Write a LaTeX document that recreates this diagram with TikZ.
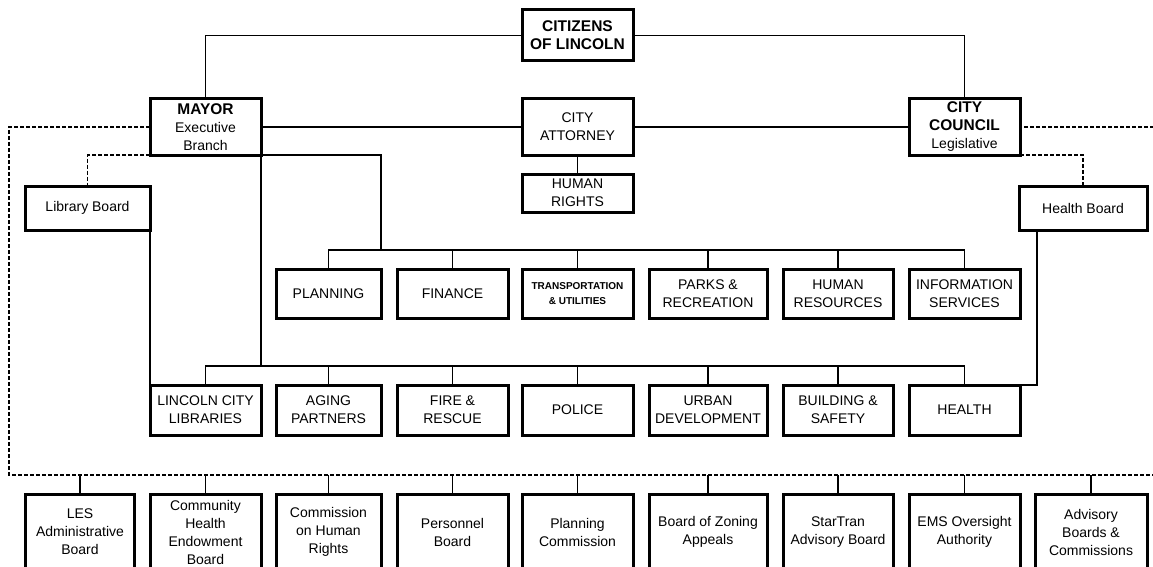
\documentclass[tikz,border=0pt]{standalone}
\usepackage{fontspec}
\setmainfont{Liberation Sans}
\usepackage{tikz}

\tikzset{
  orgbox/.style={draw, line width=3pt, inner sep=2pt, outer sep=0pt, align=center, font=\fontsize{14}{18}\selectfont},
  link/.style={line width=1.3pt},
  dashlink/.style={line width=1.3pt, dash pattern=on 4pt off 2pt}
}

\begin{document}
\begin{tikzpicture}[x=1pt,y=-1pt]
\useasboundingbox (0,0) rectangle (1153,567);
\clip (0,0) rectangle (1153,567);

\node[orgbox, font=\bfseries\fontsize{15.5}{18}\selectfont, minimum width=111, minimum height=51] (citizens) at (577.5,35.5) {CITIZENS\\OF LINCOLN};
\node[orgbox, minimum width=111, minimum height=56] (mayor) at (205.5,127) {{\bfseries\fontsize{15.5}{18}\selectfont MAYOR}\\Executive\\Branch};
\node[orgbox, minimum width=111, minimum height=56] (attorney) at (577.5,127) {CITY\\ATTORNEY};
\node[orgbox, minimum width=111, minimum height=56] (council) at (964.5,127) {{\bfseries\fontsize{15.5}{18}\selectfont CITY}\\{\bfseries\fontsize{15.5}{18}\selectfont COUNCIL}\\Legislative};
\node[orgbox, minimum width=111, minimum height=38] (hrights) at (577.5,193) {HUMAN\\RIGHTS};
\node[orgbox, minimum width=125, minimum height=44] (libboard) at (87.5,208) {Library Board};
\node[orgbox, minimum width=128, minimum height=44] (healthboard) at (1083,208) {Health Board};

\node[orgbox, minimum width=105, minimum height=49] (planning) at (328.5,293.5) {PLANNING};
\node[orgbox, minimum width=111, minimum height=49] (finance) at (452.5,293.5) {FINANCE};
\node[orgbox, font=\bfseries\fontsize{10}{15}\selectfont, minimum width=111, minimum height=49] (transport) at (577.5,293.5) {TRANSPORTATION\\\& UTILITIES};
\node[orgbox, minimum width=118, minimum height=49] (parks) at (708,293.5) {PARKS \&\\RECREATION};
\node[orgbox, minimum width=110, minimum height=49] (hresources) at (838,293.5) {HUMAN\\RESOURCES};
\node[orgbox, minimum width=111, minimum height=49] (infoserv) at (964.5,293.5) {INFORMATION\\SERVICES};

\node[orgbox, minimum width=111, minimum height=50] (libraries) at (205.5,410) {LINCOLN CITY\\LIBRARIES};
\node[orgbox, minimum width=105, minimum height=50] (aging) at (328.5,410) {AGING\\PARTNERS};
\node[orgbox, minimum width=111, minimum height=50] (fire) at (452.5,410) {FIRE \&\\RESCUE};
\node[orgbox, minimum width=111, minimum height=50] (police) at (577.5,410) {POLICE};
\node[orgbox, minimum width=118, minimum height=50] (urban) at (708,410) {URBAN\\DEVELOPMENT};
\node[orgbox, minimum width=110, minimum height=50] (building) at (838,410) {BUILDING \&\\SAFETY};
\node[orgbox, minimum width=111, minimum height=50] (health) at (964.5,410) {HEALTH};

\node[orgbox, minimum width=109, minimum height=76] (les) at (80,532) {LES\\Administrative\\Board};
\node[orgbox, minimum width=111, minimum height=76] (chboard) at (205.5,532) {Community\\Health\\Endowment\\Board};
\node[orgbox, minimum width=105, minimum height=76] (chrights) at (328.5,532) {Commission\\on Human\\Rights};
\node[orgbox, minimum width=111, minimum height=76] (personnel) at (452.5,532) {Personnel\\Board};
\node[orgbox, minimum width=111, minimum height=76] (plancomm) at (577.5,532) {Planning\\Commission};
\node[orgbox, minimum width=118, minimum height=76] (zoning) at (708,532) {Board of Zoning\\Appeals};
\node[orgbox, minimum width=110, minimum height=76] (startran) at (838,532) {StarTran\\Advisory Board};
\node[orgbox, minimum width=111, minimum height=76] (ems) at (964.5,532) {EMS Oversight\\Authority};
\node[orgbox, minimum width=112, minimum height=76] (advisory) at (1091,532) {Advisory\\Boards \&\\Commissions};

\draw[link] (citizens.west) -| (mayor.north);
\draw[link] (citizens.east) -| (council.north);
\draw[link] (mayor.east) -- (attorney.west);
\draw[link] (attorney.east) -- (council.west);
\draw[link] (attorney.south) -- (hrights.north);

\coordinate (ubus) at (381,250);
\coordinate (lbus) at (261,366);
\draw[link] (mayor.south east) -| (ubus);
\draw[link] (mayor.south east) -- (lbus);
\draw[link] (planning.north) |- (ubus) -| (infoserv.north);
\draw[link] (finance.north) -- (finance.north |- ubus);
\draw[link] (transport.north) -- (transport.north |- ubus);
\draw[link] (parks.north) -- (parks.north |- ubus);
\draw[link] (hresources.north) -- (hresources.north |- ubus);
\draw[link] (libraries.north) |- (lbus) -| (health.north);
\draw[link] (aging.north) -- (aging.north |- lbus);
\draw[link] (fire.north) -- (fire.north |- lbus);
\draw[link] (police.north) -- (police.north |- lbus);
\draw[link] (urban.north) -- (urban.north |- lbus);
\draw[link] (building.north) -- (building.north |- lbus);
\draw[link] (libboard.south east) -- (libraries.north west);
\draw[link] ([xshift=-46pt]healthboard.south) |- (health.north east);

\coordinate (dl) at (9,475);
\coordinate (dr) at (1165,475);
\draw[dashlink] (mayor.west) -| (dl) -- (dr) |- (council.east);
\draw[dashlink] (mayor.south west) -| (libboard.north);
\draw[dashlink] (council.south east) -| (healthboard.north);
\draw[link] (les.north) -- (les.north |- dl);
\draw[link] (chboard.north) -- (chboard.north |- dl);
\draw[link] (chrights.north) -- (chrights.north |- dl);
\draw[link] (personnel.north) -- (personnel.north |- dl);
\draw[link] (plancomm.north) -- (plancomm.north |- dl);
\draw[link] (zoning.north) -- (zoning.north |- dl);
\draw[link] (startran.north) -- (startran.north |- dl);
\draw[link] (ems.north) -- (ems.north |- dl);
\draw[link] (advisory.north) -- (advisory.north |- dl);
\end{tikzpicture}
\end{document}
